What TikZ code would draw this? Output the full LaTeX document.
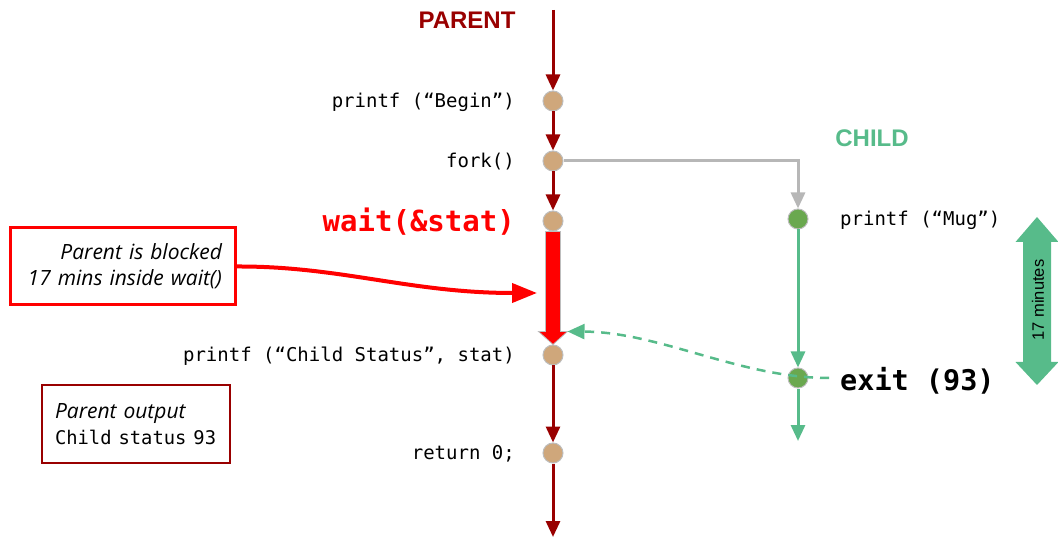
\documentclass[tikz,border=0pt]{standalone}
\usepackage{fontspec}
\setmainfont{Open Sans}
\setsansfont{Liberation Sans}
\setmonofont{DejaVu Sans Mono}
\usetikzlibrary{arrows.meta,calc}

\definecolor{pdark}{HTML}{990000}
\definecolor{ptan}{HTML}{CFA77B}
\definecolor{ring}{HTML}{BDBDBD}
\definecolor{cgreen}{HTML}{57BB8A}
\definecolor{cdot}{HTML}{6AA84F}
\definecolor{fgray}{HTML}{B7B7B7}

\tikzset{
  pstep/.style={circle, fill=ptan, draw=ring, line width=1pt, minimum size=20pt, inner sep=0pt},
  cstep/.style={pstep, fill=cdot},
  pflow/.style={pdark, line width=3pt, -{Triangle[width=14pt,length=16pt]}},
  cflow/.style={cgreen, line width=3pt, -{Triangle[width=14pt,length=16pt]}},
  forkflow/.style={fgray, line width=3pt, -{Triangle[width=14pt,length=16pt]}},
  code/.style={font=\ttfamily\fontsize{19}{22}\selectfont, inner sep=0pt},
  bigcode/.style={font=\ttfamily\bfseries\fontsize{29}{32}\selectfont, inner sep=0pt},
  title/.style={font=\sffamily\bfseries\fontsize{24}{28}\selectfont, inner sep=0pt},
  note/.style={font=\fontsize{21}{26}\selectfont, inner sep=0pt},
}

\begin{document}
\begin{tikzpicture}[x=1pt, y=-1pt]
\useasboundingbox (0,0) rectangle (1058,537);

% process titles
\node[title, pdark] (ptitle) at (467,20) {PARENT};
\node[title, cgreen] (ctitle) at (872,138) {CHILD};

% parent timeline points
\coordinate (ptop) at (553,10);
\node[pstep] (begin) at (553,101) {};
\node[pstep] (fork) at (553,161) {};
\node[pstep] (wait) at (553,221) {};
\node[pstep] (stat) at (553,355) {};
\node[pstep] (ret) at (553,453) {};
\coordinate (pend) at (553,537);

% child timeline points
\node[cstep] (mug) at (798,219) {};
\node[cstep] (exit) at (798,378) {};
\coordinate (cend) at (798,441);

% parent code
\node[code, anchor=east] (tbegin) at (515,102) {printf (“Begin”)};
\node[code, anchor=east] (tfork) at (515,162) {fork()};
\node[bigcode, red, anchor=east] (twait) at (515,222) {wait(\&stat)};
\node[code, anchor=east] (tstat) at (515,356) {printf (“Child Status”, stat)};
\node[code, anchor=east] (tret) at (515,454) {return 0;};

% child code
\node[code, anchor=west] (tmug) at (840,220) {printf (“Mug”)};
\node[font=\ttfamily\bfseries\fontsize{28.5}{32}\selectfont, inner sep=0pt, anchor=west] (texit) at (840,381) {exit (93)};

% parent flow
\draw[pflow] (ptop) -- (begin);
\draw[pflow] (begin) -- (fork);
\draw[pflow] (fork) -- (wait);
\draw[pflow] (stat) -- (ret);
\draw[pflow] (ret) -- (pend);

% fork into the child
\draw[forkflow] (fork.east) -| (mug.north);

% child flow
\draw[cflow] (mug) -- (exit);
\draw[cflow] (exit) -- (cend);

% parent blocked in wait()
\path[draw=ring, fill=red, line width=0.8pt]
  ($(wait.south)+(-7.5,0)$) -- ($(stat.north)+(-7.5,-13)$) -- ($(stat.north)+(-14.5,-13)$)
  -- (stat.north) -- ($(stat.north)+(14.5,-13)$) -- ($(stat.north)+(7.5,-13)$)
  -- ($(wait.south)+(7.5,0)$) -- cycle;
\coordinate (headR) at ($(stat.north)+(14.5,-13)$);
\coordinate (blocktarget) at (537,293);

% notes
\node[note, draw=red, line width=3pt, minimum width=225pt, minimum height=77pt,
      text width=199pt, align=right] (blocked) at (122.5,266.5)
  {\itshape Parent is blocked\\ \itshape 17 mins inside wait()};
\draw[red, line width=4pt, -{Triangle[width=19pt,length=25pt]}]
  (blocked.east) .. controls (340,266) and (410,293) .. (blocktarget);

\node[note, draw=pdark, line width=2.5pt, minimum width=188pt, minimum height=78pt,
      text width=162pt, align=left] (output) at (136,424)
  {\itshape Parent output\\ {\normalfont\ttfamily\fontsize{18.8}{20}\selectfont Child status 93}};

% exit status returned to the parent
\coordinate (dashstart) at (829,378);
\draw[cgreen, line width=2.5pt, dash pattern=on 9pt off 7pt, -{Triangle[width=15pt,length=17pt]}]
  (dashstart) .. controls (740,378) and (660,332) .. (headR);

% duration marker
\fill[cgreen] (1037,217) -- (1058.5,242) -- (1051,242) -- (1051,362) -- (1058.5,362)
  -- (1037,385) -- (1015.5,362) -- (1023,362) -- (1023,242) -- (1015.5,242) -- cycle;
\node[font=\sffamily\fontsize{16.5}{18}\selectfont, rotate=90, inner sep=0pt] (span) at (1038,300) {17 minutes};
\end{tikzpicture}
\end{document}
